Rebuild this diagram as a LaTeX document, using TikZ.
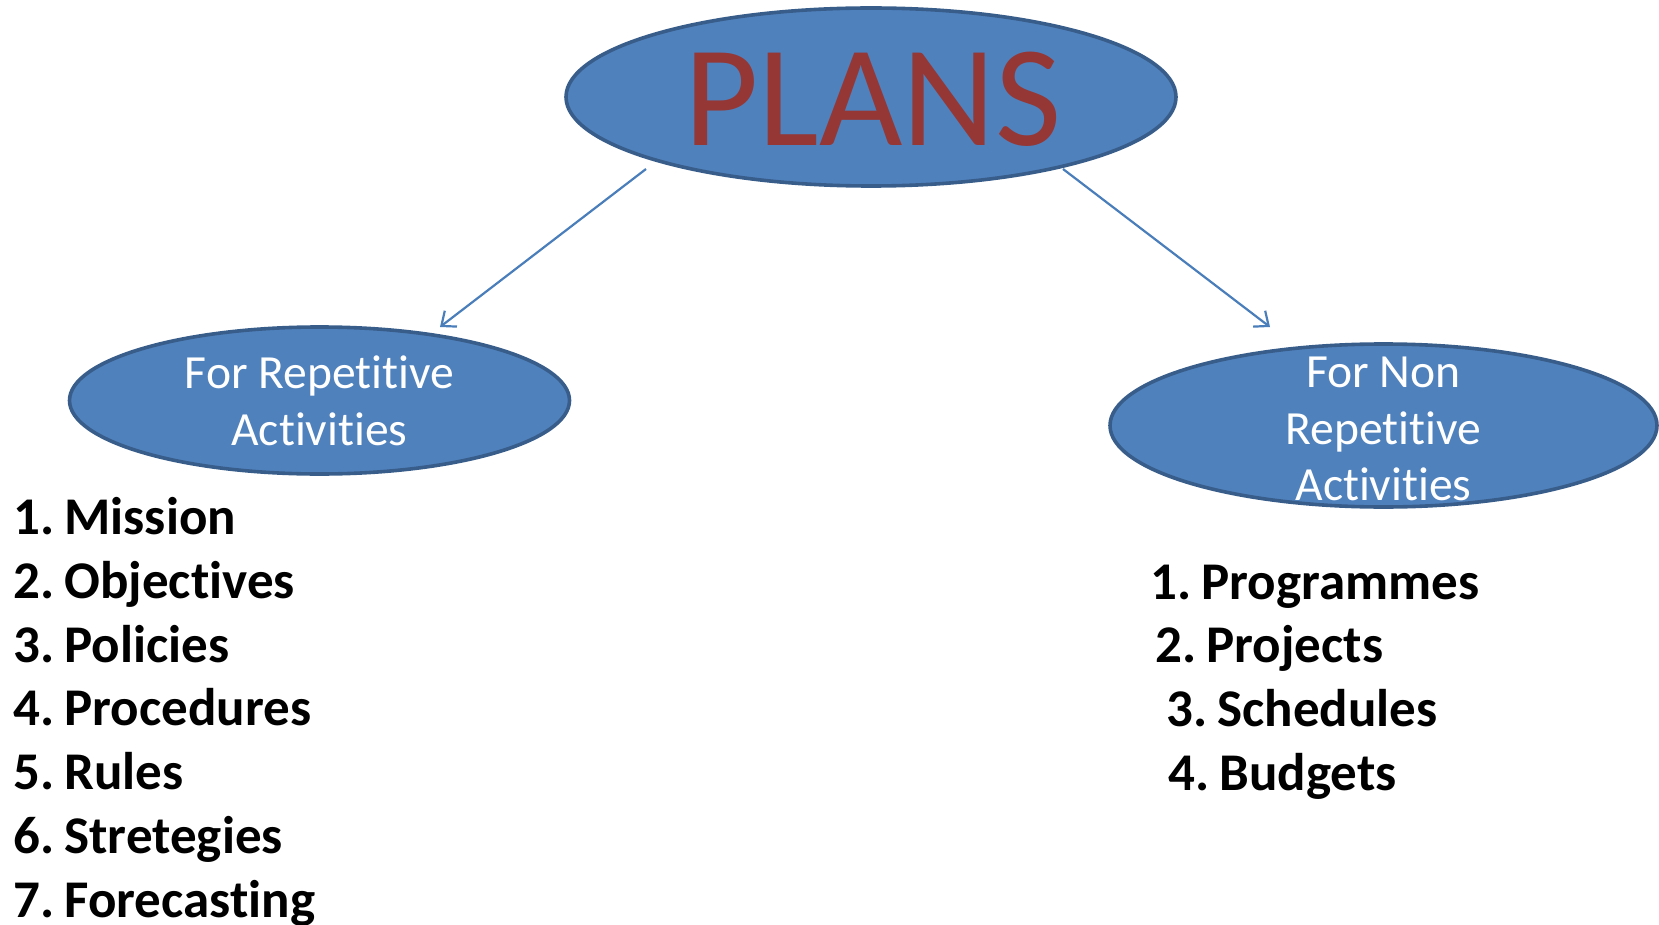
\documentclass[tikz,border=0pt]{standalone}
\usepackage{fontspec}
\setmainfont{Carlito}[RawFeature={-liga;-calt;-clig;-dlig;-rlig}]
\usetikzlibrary{shapes.geometric,arrows.meta,positioning}

\definecolor{planfill}{HTML}{4F81BD}
\definecolor{planedge}{HTML}{385D8A}
\definecolor{planred}{HTML}{953735}
\definecolor{arrowblue}{HTML}{4A7EBB}

\tikzset{
  bubble/.style={ellipse, draw=planedge, fill=planfill, line width=1.8pt, inner sep=0pt},
  bubbletext/.style={text=white, align=center, inner sep=0pt, font=\fontsize{23.8}{28.3}\selectfont},
  arr/.style={draw=arrowblue, line width=1.1pt, -{Straight Barb[length=6pt,width=10pt]}},
  item/.style={anchor=base west, inner sep=0pt, font=\fontsize{26.5}{31}\selectfont\bfseries},
}

\begin{document}
\begin{tikzpicture}[x=0.5pt,y=-0.5pt]
    \useasboundingbox (0,0) rectangle (1659,925);
    % ellipses
    \node[bubble, minimum width=305pt, minimum height=89pt] (plans) at (871,97) {};
    \node[text=planred, inner sep=0pt, font=\fontsize{72}{72}\selectfont] (planstxt) at (873,99) {PLANS};
    \node[bubble, minimum width=250pt, minimum height=73.5pt] (rep) at (319.5,400.5) {};
    \node[bubbletext] (reptxt) at (319.5,401) {For Repetitive\\Activities};
    \node[bubble, minimum width=273.5pt, minimum height=81.5pt] (nonrep) at (1383.5,425.5) {};
    \node[bubbletext] (nonreptxt) at (1383.5,429) {For Non\\Repetitive\\Activities};
    % arrows
    \coordinate (a1) at (646,169);
    \coordinate (b1) at (440,327);
    \coordinate (a2) at (1063,169);
    \coordinate (b2) at (1270,327);
    \draw[arr] (a1) -- (b1);
    \draw[arr] (a2) -- (b2);
    % lists
    \foreach \i/\t/\yy in {1/Mission/534, 2/Objectives/598, 3/Policies/662, 4/Procedures/725, 5/Rules/789, 6/Stretegies/853, 7/Forecasting/917}
        \node[item] (r\i) at (13,\yy) {\i.\kern0.19em\t};
    \foreach \i/\t/\xx/\yy in {1/Programmes/1150/599, 2/Projects/1155/662, 3/Schedules/1166/726, 4/Budgets/1168/790}
        \node[item] (n\i) at (\xx,\yy) {\i.\kern0.19em\t};
\end{tikzpicture}
\end{document}
